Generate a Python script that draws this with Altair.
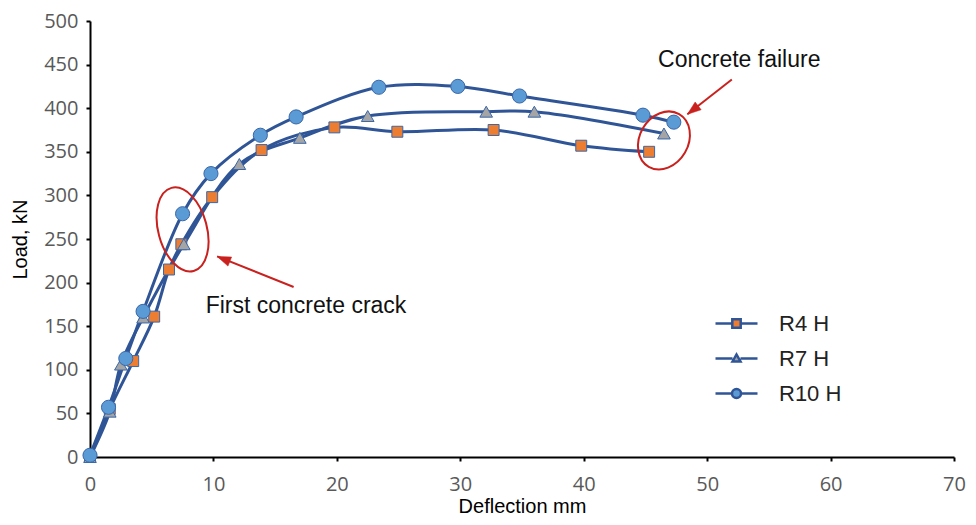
import altair as alt
import pandas as pd

# ---------------- data ----------------
series_names = ["R4 H", "R7 H", "R10 H"]

r4_x = [0, 1.6, 3.5, 5.2, 6.4, 7.4, 9.9, 13.9, 19.8, 24.9, 32.7, 39.8, 45.3]
r4_y = [0, 55, 110, 161, 215, 244, 298, 352, 378, 373, 375, 357, 350]

r7_x = [0, 1.6, 2.5, 4.3, 7.6, 12.1, 17.0, 22.5, 32.1, 36.0, 46.5]
r7_y = [0, 52, 106, 160, 244, 336, 366, 391, 396, 396, 371]

r10_x = [0, 1.5, 2.9, 4.3, 7.5, 9.8, 13.8, 16.7, 23.4, 29.8, 34.8, 44.8, 47.3]
r10_y = [2, 57, 113, 167, 279, 325, 369, 390, 424, 425, 414, 392, 384]

x_ticks = [0, 10, 20, 30, 40, 50, 60, 70]
y_ticks = [0, 50, 100, 150, 200, 250, 300, 350, 400, 450, 500]

marker_shapes = ["square", "triangle-up", "circle"]
marker_sizes = [120, 200, 82]
marker_fills = ["#ED7D31", "#A5A5A5", "#5B9BD5"]
legend_shapes = [
    "M-2.1,0H-0.42M0.42,0H2.1M-0.42,-0.42H0.42V0.42H-0.42Z",
    "M-2.1,0H-0.4M0.4,0H2.1M-0.4,0.3L0,-0.4L0.4,0.3Z",
    "M-2.1,0H-0.45M0.45,0H2.1M0.45,0A0.45,0.45 0 1,1 -0.45,0A0.45,0.45 0 1,1 0.45,0Z",
]

# annotations (data coordinates)
note_text = ["Concrete failure", "First concrete crack"]
note_x = [52.6, 17.5]
note_y = [455.5, 173]

ell_x = [7.5, 46.5]
ell_y = [261, 363]
ell_angle = [345, 30]
ell_size = [7396, 3697]
ell_path = [
    "M0,-1A0.565,1 0 1,1 0,1A0.565,1 0 1,1 0,-1Z",
    "M0,-1A0.8,1 0 1,1 0,1A0.8,1 0 1,1 0,-1Z",
]

arrow_x = [16.5, 52.0]
arrow_y = [195, 433]
arrow_x2 = [10.3, 48.4]
arrow_y2 = [230, 393]
arrow_angle = [292, 232]

# ---------------- frames ----------------
rows = []
for name, xs_, ys_ in [("R4 H", r4_x, r4_y), ("R7 H", r7_x, r7_y), ("R10 H", r10_x, r10_y)]:
    for xv, yv in zip(xs_, ys_):
        rows.append({"series": name, "x": xv, "y": yv})
df = pd.DataFrame(rows)

notes = pd.DataFrame({"text": note_text, "x": note_x, "y": note_y})
ells = pd.DataFrame({"x": ell_x, "y": ell_y, "angle": ell_angle, "size": ell_size, "shape": ell_path})
arrows = pd.DataFrame({"x": arrow_x, "y": arrow_y, "x2": arrow_x2, "y2": arrow_y2, "angle": arrow_angle})

LINE = "#2F5597"
RED = "#C9211E"
TITLE_FONT = "Liberation Sans"

xs = alt.Scale(domain=[0, 70], nice=False, zero=False)
ys = alt.Scale(domain=[0, 500], nice=False)

X = alt.X("x:Q", scale=xs, title="Deflection mm",
          axis=alt.Axis(values=x_ticks, grid=False, labelFlush=False))
Y = alt.Y("y:Q", scale=ys, title="Load, kN",
          axis=alt.Axis(values=y_ticks, grid=False, labelFlush=False))

lines = alt.Chart(df).mark_line(
    interpolate="catmull-rom", color=LINE, strokeWidth=3
).encode(x=X, y=Y, detail="series:N")

points = alt.Chart(df).mark_point(
    filled=True, stroke="#3A67A8", strokeWidth=1, opacity=1
).encode(
    x=alt.X("x:Q", scale=xs), y=alt.Y("y:Q", scale=ys),
    shape=alt.Shape("series:N", scale=alt.Scale(domain=series_names, range=marker_shapes), legend=None),
    fill=alt.Fill("series:N", scale=alt.Scale(domain=series_names, range=marker_fills), legend=None),
    size=alt.Size("series:N", scale=alt.Scale(domain=series_names, range=marker_sizes), legend=None),
)

leg = alt.Legend(
    title=None, orient="none", legendX=635, legendY=291,
    symbolSize=400, symbolStrokeWidth=2.5,
    labelFont=TITLE_FONT, labelFontSize=22, labelColor="#222222",
    labelOffset=31, rowPadding=12, symbolOpacity=1,
)
legend_layer = alt.Chart(df).mark_point(
    filled=True, size=0, strokeWidth=2.5, opacity=1
).encode(
    x=alt.X("x:Q", scale=xs), y=alt.Y("y:Q", scale=ys),
    shape=alt.Shape("series:N", scale=alt.Scale(domain=series_names, range=legend_shapes), legend=leg),
    fill=alt.Fill("series:N", scale=alt.Scale(domain=series_names, range=marker_fills), legend=leg),
    stroke=alt.Stroke("series:N", scale=alt.Scale(domain=series_names, range=[LINE, LINE, LINE]), legend=leg),
)

ell_layer = alt.Chart(ells).mark_point(
    filled=False, stroke=RED, strokeWidth=2, opacity=1
).encode(
    x=alt.X("x:Q", scale=xs), y=alt.Y("y:Q", scale=ys),
    shape=alt.Shape("shape:N", scale=None),
    size=alt.Size("size:Q", scale=None),
    angle=alt.Angle("angle:Q", scale=None),
)

arrow_lines = alt.Chart(arrows).mark_rule(color=RED, strokeWidth=2).encode(
    x=alt.X("x:Q", scale=xs), y=alt.Y("y:Q", scale=ys), x2="x2:Q", y2="y2:Q"
)
arrow_heads = alt.Chart(arrows).mark_point(
    filled=True, fill=RED, stroke=RED, strokeWidth=0.5, opacity=1, size=380,
    shape="M0,0L-0.5,1.4L0.5,1.4Z"
).encode(
    x=alt.X("x2:Q", scale=xs), y=alt.Y("y2:Q", scale=ys),
    angle=alt.Angle("angle:Q", scale=None),
)

note_layer = alt.Chart(notes).mark_text(
    font=TITLE_FONT, fontSize=23, color="#111111", align="center", baseline="middle"
).encode(x=alt.X("x:Q", scale=xs), y=alt.Y("y:Q", scale=ys), text="text:N")

chart = alt.layer(
    lines, points, ell_layer, arrow_lines, arrow_heads, note_layer, legend_layer
).resolve_scale(
    shape="independent", fill="independent", size="independent", angle="independent",
    stroke="independent"
).properties(
    width=864, height=436,
    padding={"left": 82, "top": 13, "right": 14, "bottom": 59},
    autosize=alt.AutoSizeParams(type="none"),
).configure_view(stroke=None).configure_axis(
    domainColor="#000000", domainWidth=2, tickColor="#000000", tickWidth=2, tickSize=4,
    labelFont="Open Sans", labelFontSize=20, labelColor="#595959",
    titleFont=TITLE_FONT, titleFontSize=20, titleColor="#000000", titleFontWeight="normal",
).configure_axisX(labelPadding=13, titlePadding=2, titleFontSize=20).configure_axisY(labelPadding=8, titlePadding=13)

chart.save("out.html", embed_options={"renderer": "svg", "actions": False})
